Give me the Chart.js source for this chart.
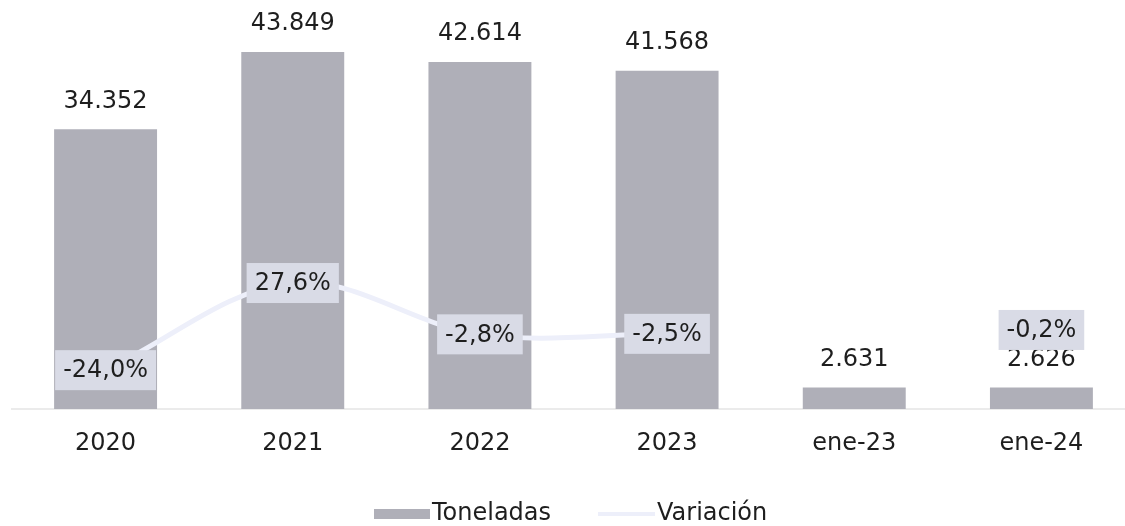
<!DOCTYPE html>
<html>
<head>
<meta charset="utf-8">
<script src="https://cdn.jsdelivr.net/npm/chart.js@4/dist/chart.umd.min.js"></script>
<style>
  html, body { margin: 0; padding: 0; background: #fff; overflow: hidden; }
  #wrap { width: 1135px; height: 526px; position: relative; }
</style>
</head>
<body>
<div id="wrap"><canvas id="chart"></canvas></div>
<script>
// Data
const categories = ["2020", "2021", "2022", "2023", "ene-23", "ene-24"];
const toneladas = [34352, 43849, 42614, 41568, 2631, 2626];
const variacion = [-24.0, 27.6, -2.8, -2.5, null, -0.2];

const FONT = "'DejaVu Sans', sans-serif";
const TEXT = "#1e1e1e";
const BAR = "#AFAFB8";
const LINE = "#EDEFFA";
const BOX = "#D9DBE6";

// 34352 -> "34.352"
function fmtTon(v) {
  return String(v).replace(/\B(?=(\d{3})+(?!\d))/g, ".");
}
// -24 -> "-24,0%"
function fmtPct(v) {
  return v.toFixed(1).replace(".", ",") + "%";
}

// Draw value labels and the legend
const labelPlugin = {
  id: "labels",
  afterDatasetsDraw(chart) {
    const ctx = chart.ctx;
    ctx.save();
    ctx.font = "24px " + FONT;
    ctx.textAlign = "center";
    ctx.textBaseline = "middle";

    // bar values above bars
    chart.getDatasetMeta(1).data.forEach((bar, i) => {
      ctx.fillStyle = TEXT;
      ctx.fillText(fmtTon(toneladas[i]), bar.x, bar.y - 28);
    });

    // line values in boxes
    chart.getDatasetMeta(0).data.forEach((pt, i) => {
      if (variacion[i] === null) return;
      const txt = fmtPct(variacion[i]);
      const w = ctx.measureText(txt).width + 16;
      const h = 40;
      ctx.fillStyle = BOX;
      ctx.fillRect(pt.x - w / 2, pt.y - h / 2, w, h);
      ctx.fillStyle = TEXT;
      ctx.fillText(txt, pt.x, pt.y + 1);
    });

    // legend
    const ly = 514;
    ctx.textAlign = "left";
    ctx.fillStyle = BAR;
    ctx.fillRect(374, ly - 5, 56, 10);
    ctx.fillStyle = TEXT;
    ctx.fillText("Toneladas", 432, ly);
    ctx.strokeStyle = LINE;
    ctx.lineWidth = 4;
    ctx.beginPath();
    ctx.moveTo(598, ly);
    ctx.lineTo(655, ly);
    ctx.stroke();
    ctx.fillText("Variación", 657, ly);
    ctx.restore();
  }
};

const ctx = document.getElementById("chart").getContext("2d");
new Chart(ctx, {
  data: {
    labels: categories,
    datasets: [
      {
        type: "line",
        label: "Variación",
        data: variacion,
        yAxisID: "y2",
        borderColor: LINE,
        backgroundColor: LINE,
        borderWidth: 5,
        pointRadius: 0,
        tension: 0.35,
        spanGaps: false,
        order: 0
      },
      {
        type: "bar",
        label: "Toneladas",
        data: toneladas,
        yAxisID: "y",
        backgroundColor: BAR,
        barPercentage: 0.55,
        categoryPercentage: 1,
        order: 1
      }
    ]
  },
  options: {
    responsive: true,
    maintainAspectRatio: false,
    animation: false,
    layout: { padding: { left: 12, right: 0, top: 2, bottom: 0 } },
    plugins: {
      legend: { display: false },
      tooltip: { enabled: false }
    },
    scales: {
      x: {
        grid: { display: false },
        border: { color: "#EBEBEB", width: 2 },
        ticks: {
          color: TEXT,
          font: { family: FONT, size: 24 },
          padding: 12
        },
        afterFit(scale) { scale.height = 117; }
      },
      y: {
        display: false,
        min: 0,
        max: 50000
      },
      y2: {
        display: false,
        position: "right",
        min: -47,
        max: 194
      }
    }
  },
  plugins: [labelPlugin]
});
</script>
</body>
</html>
